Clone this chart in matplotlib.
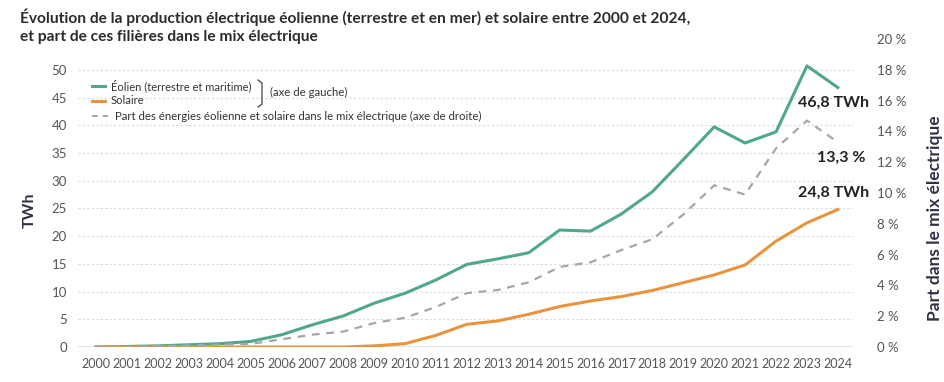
import matplotlib.pyplot as plt
from matplotlib.lines import Line2D

plt.rcParams['font.family'] = ['Lato', 'DejaVu Sans']

years = list(range(2000, 2025))

# Production (TWh)
eolien = [0.0, 0.1, 0.2, 0.4, 0.6, 1.0, 2.2, 4.0, 5.6, 7.9, 9.7, 12.1, 14.9,
          15.9, 17.0, 21.1, 20.9, 24.0, 28.0, 33.8, 39.7, 36.8, 38.8, 50.7, 46.8]
solaire = [0.0, 0.0, 0.0, 0.0, 0.0, 0.0, 0.0, 0.0, 0.0, 0.2, 0.6, 2.1, 4.1,
           4.7, 5.9, 7.3, 8.3, 9.1, 10.2, 11.6, 13.0, 14.8, 19.1, 22.4, 24.8]
# Part dans le mix électrique (%)
part = [0.0, 0.0, 0.05, 0.1, 0.15, 0.2, 0.5, 0.8, 1.0, 1.55, 1.9, 2.6, 3.5,
        3.7, 4.2, 5.2, 5.5, 6.3, 7.0, 8.6, 10.5, 9.9, 12.9, 14.7, 13.3]

green = '#4fa886'
orange = '#e8943f'
grey_dash = '#a8a5a8'
dark = '#2e3244'
tick_col = '#555555'

fig = plt.figure(figsize=(9.45, 3.82), dpi=100)
ax = fig.add_axes([78 / 945, 1 - 347 / 382, (853 - 78) / 945, (347 - 39) / 382])
ax2 = ax.twinx()

ax.set_xlim(1999.42, 2024.49)
ax.set_ylim(0, 50 * 20 / 18)
ax2.set_ylim(0, 20)

for y in range(5, 51, 5):
    ax.axhline(y, color='#dadada', lw=0.8, ls=(0, (2, 2)), zorder=0)
ax.axhline(0, color='#777777', lw=1.0, zorder=1)

ax.plot(years, eolien, color=green, lw=2.2, zorder=3)
ax.plot(years, solaire, color=orange, lw=2.2, zorder=3)
ax2.plot(years, part, color=grey_dash, lw=1.6, ls=(0, (3.5, 3)), zorder=2)

for a in (ax, ax2):
    for s in a.spines.values():
        s.set_visible(False)

ax.set_xticks(years)
ax.set_xticklabels([str(y) for y in years])
ax.set_yticks(range(0, 51, 5))
ax.tick_params(axis='x', length=0, pad=8, labelsize=9, labelcolor=tick_col)
ax.tick_params(axis='y', length=0, pad=8, labelsize=9.5, labelcolor=tick_col)
ax2.set_yticks(range(0, 21, 2))
ax2.set_yticklabels([f'{v} %' for v in range(0, 21, 2)])
ax2.tick_params(axis='y', length=0, pad=17, labelsize=9.5, labelcolor=tick_col)

fig.text(30 / 945, 1 - 210 / 382, 'TWh', rotation=90, ha='center', va='center',
         fontsize=11.5, fontweight='bold', color=dark)
fig.text(935 / 945, 1 - 218 / 382, 'Part dans le mix électrique', rotation=90,
         ha='center', va='center', fontsize=12.5, fontweight='bold', color=dark)

fig.text(20 / 945, 1 - 17 / 382, "Évolution de la production électrique éolienne (terrestre et en mer) "
         "et solaire entre 2000 et 2024,", ha='left', va='center', fontsize=11.2,
         fontweight='bold', color='#2b2b2b')
fig.text(20 / 945, 1 - 37 / 382, "et part de ces filières dans le mix électrique", ha='left',
         va='center', fontsize=11.2, fontweight='bold', color='#2b2b2b')

# annotations
ax.annotate('46,8 TWh', xy=(869 / 945, 1 - 103 / 382), xycoords='figure fraction',
            ha='right', va='center', fontsize=11.5, fontweight='bold', color='#222222')
ax.annotate('13,3 %', xy=(866 / 945, 1 - 158 / 382), xycoords='figure fraction',
            ha='right', va='center', fontsize=11.5, fontweight='bold', color='#222222')
ax.annotate('24,8 TWh', xy=(869 / 945, 1 - 193 / 382), xycoords='figure fraction',
            ha='right', va='center', fontsize=11.5, fontweight='bold', color='#222222')

# legend drawn by hand
def fx(px):
    return px / 945


def fy(py):
    return 1 - py / 382


fig.add_artist(Line2D([fx(92), fx(105)], [fy(86), fy(86)], color=green, lw=2.2))
fig.add_artist(Line2D([fx(92), fx(105)], [fy(101), fy(101)], color=orange, lw=2.2))
fig.add_artist(Line2D([fx(92), fx(108)], [fy(116), fy(116)], color=grey_dash, lw=1.4,
                      ls=(0, (3, 2.5))))
fig.text(fx(111), fy(86), 'Éolien (terrestre et maritime)', ha='left', va='center',
         fontsize=8, color='#333333')
fig.text(fx(111), fy(101), 'Solaire', ha='left', va='center', fontsize=8, color='#333333')
fig.text(fx(115), fy(116), 'Part des énergies éolienne et solaire dans le mix électrique (axe de droite)',
         ha='left', va='center', fontsize=8.2, color='#333333')
fig.add_artist(Line2D([fx(258), fx(262), fx(262), fx(258)],
                      [fy(80), fy(83), fy(104), fy(107)], color='#444444', lw=0.9))
fig.text(fx(270), fy(92), '(axe de gauche)', ha='left', va='center', fontsize=8.2,
         color='#333333')

fig.savefig('out.png', dpi=100)
